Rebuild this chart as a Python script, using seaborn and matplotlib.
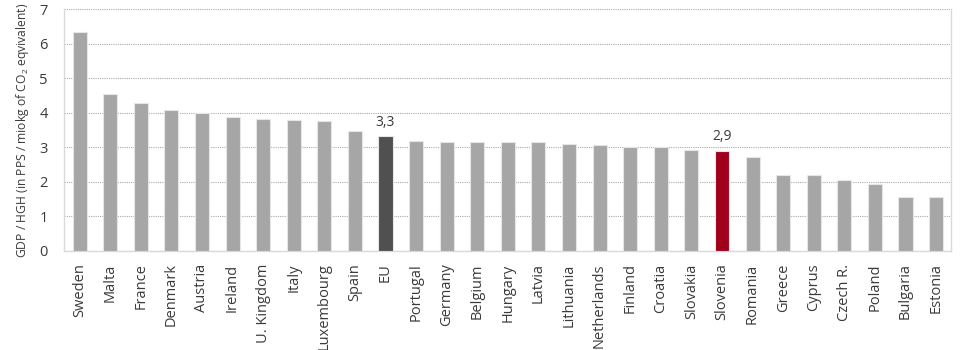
import matplotlib
matplotlib.use("Agg")
import matplotlib.pyplot as plt
import seaborn as sns
import pandas as pd

countries = ["Sweden", "Malta", "France", "Denmark", "Austria", "Ireland", "U. Kingdom",
             "Italy", "Luxembourg", "Spain", "EU", "Portugal", "Germany", "Belgium",
             "Hungary", "Latvia", "Lithuania", "Netherlands", "Finland", "Croatia",
             "Slovakia", "Slovenia", "Romania", "Greece", "Cyprus", "Czech R.",
             "Poland", "Bulgaria", "Estonia"]
values = [6.34, 4.54, 4.28, 4.09, 4.00, 3.89, 3.82, 3.79, 3.77, 3.47, 3.32, 3.19,
          3.17, 3.17, 3.15, 3.15, 3.10, 3.06, 3.02, 3.02, 2.92, 2.89, 2.72, 2.21,
          2.19, 2.06, 1.95, 1.57, 1.57]
highlight_labels = {"EU": "3,3", "Slovenia": "2,9"}
y_ticks = [0, 1, 2, 3, 4, 5, 6, 7]

sns.set_theme(style="white")
plt.rcParams["font.family"] = ["Open Sans", "DejaVu Sans"]
plt.rcParams["mathtext.fontset"] = "custom"
plt.rcParams["mathtext.rm"] = "Open Sans"
plt.rcParams["mathtext.it"] = "Open Sans:italic"

df = pd.DataFrame({"country": countries, "value": values})
palette = {c: "#A6A6A6" for c in countries}
palette["EU"] = "#505050"
palette["Slovenia"] = "#A0001C"

text_color = "#3A3A3A"

fig = plt.figure(figsize=(9.6, 3.5), dpi=100)
ax = fig.add_axes([0.067, 0.283, 0.924, 0.690])

sns.barplot(data=df, x="country", y="value", hue="country", palette=palette,
            legend=False, width=0.46, edgecolor="#E6E6E6", linewidth=0.8,
            saturation=1, ax=ax, zorder=3)

for i, (c, v) in enumerate(zip(countries, values)):
    if c in highlight_labels:
        ax.text(i, v + 0.2, highlight_labels[c], ha="center", va="bottom",
                fontsize=10, color=text_color, zorder=4)

ax.set_ylim(0, 7)
ax.set_xlim(-0.5, len(countries) - 0.5)
ax.set_yticks(y_ticks)
ax.set_yticklabels([str(t) for t in y_ticks], fontsize=10.5, color=text_color)
ax.tick_params(axis="x", labelrotation=90, labelsize=10.5, colors=text_color, length=0, pad=9)
ax.tick_params(axis="y", length=0, pad=12)
ax.set_xlabel("")
ax.set_ylabel("GDP / HGH (in PPS / miokg of CO$\\mathrm{_2}$ eqvivalent)", fontsize=8.7,
              color=text_color, labelpad=6)

ax.yaxis.grid(True, linestyle=(0, (1, 1)), color="#AAAAAA", linewidth=0.8, zorder=0)
for side in ["left", "bottom", "right"]:
    ax.spines[side].set_color("#D9D9D9")
    ax.spines[side].set_linewidth(1.0)
ax.spines["top"].set_visible(False)

fig.savefig("out.png", dpi=100)
